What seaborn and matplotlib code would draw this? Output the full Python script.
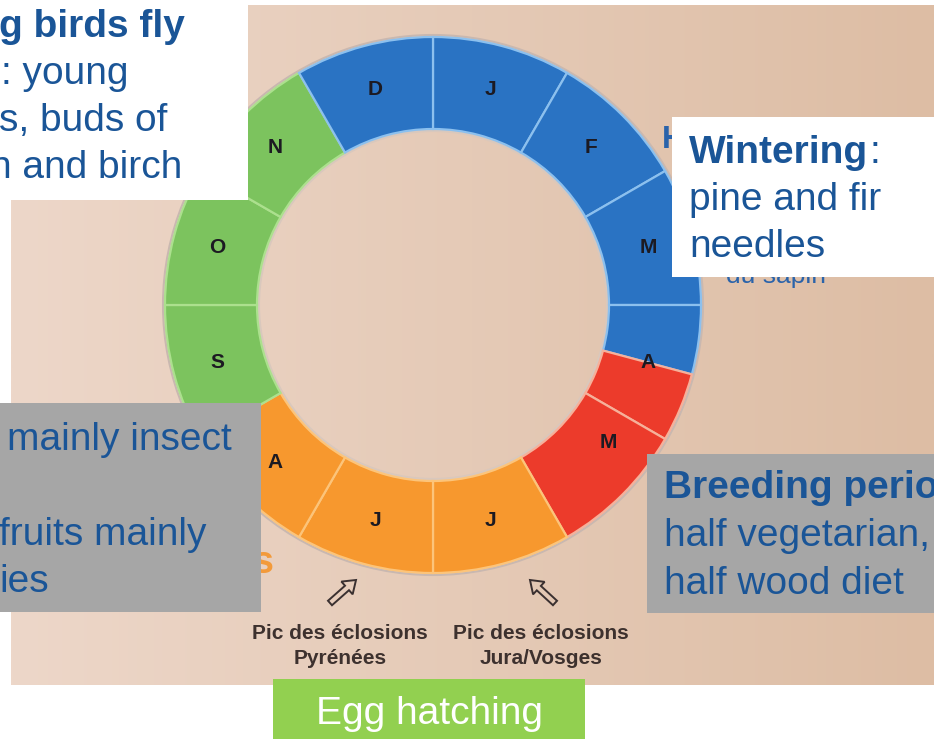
import matplotlib
matplotlib.use('Agg')
import matplotlib.pyplot as plt
from matplotlib.patches import Rectangle, FancyArrow
import numpy as np
import seaborn as sns

# months around the ring, clockwise from the top
months = ['J', 'F', 'M', 'A', 'M', 'J', 'J', 'A', 'S', 'O', 'N', 'D']

# ring segments (length in months) and the diet period each one belongs to
segment_sizes = [1, 1, 1, 0.5, 0.5, 1, 1, 1, 1, 1, 1, 1, 1]
segment_period = ['Wintering', 'Wintering', 'Wintering', 'Wintering', 'Breeding', 'Breeding',
                  'Rearing', 'Rearing', 'Rearing', 'Autumn', 'Autumn', 'Autumn', 'Wintering']

# annotation texts
top_left_lines = ['g birds fly', ': young', 's, buds of', 'h and birch']
wintering_lines = ['Wintering', ':', 'pine and fir', 'needles']
left_lines = ['mainly insect', 'fruits mainly', 'ies']
right_lines = ['Breeding perio', 'half vegetarian,', 'half wood diet']
hatch_labels = ['Pic des éclosions\nPyrénées', 'Pic des éclosions\nJura/Vosges']
green_label = 'Egg hatching'

period_colors = {'Wintering': '#2a73c3', 'Breeding': '#ec3b2b',
                 'Rearing': '#f7982e', 'Autumn': '#7cc35e'}
edge_colors = {'Wintering': '#8cc0ee', 'Breeding': '#f6b09a',
               'Rearing': '#fcc47a', 'Autumn': '#ace08e'}

sns.set_theme(style='white')
plt.rcParams['font.family'] = ['Liberation Sans', 'DejaVu Sans']

W, H = 934, 739
fig = plt.figure(figsize=(W / 100, H / 100), dpi=100)
fig.patch.set_facecolor('white')
ax = fig.add_axes([0, 0, 1, 1])


def Y(y):
    # pixel row from the top -> data y
    return H - y


# photo-like background gradient
left_c = np.array([237, 215, 201]) / 255
right_c = np.array([221, 189, 164]) / 255
grad = np.linspace(0, 1, 256)[None, :, None]
img = left_c + (right_c - left_c) * grad
ax.imshow(img, extent=[11, W, Y(685), Y(5)], aspect='auto', interpolation='bilinear', zorder=0)

# the ring
cx, cy = 433, 305
r_out, r_in = 268, 176
# faint outline around the ring
ax.add_patch(plt.Circle((cx, Y(cy)), r_out + 2, fc='none', ec='#c9b8b0', lw=1.5, zorder=0.5))
ax.add_patch(plt.Circle((cx, Y(cy)), r_in - 2, fc='none', ec='#d9c8bd', lw=1.5, zorder=0.5))
wedges, _ = ax.pie(segment_sizes, colors=[period_colors[p] for p in segment_period],
                   startangle=90, counterclock=False, radius=r_out, center=(cx, Y(cy)),
                   wedgeprops=dict(width=r_out - r_in, linewidth=1.6))
for w, p in zip(wedges, segment_period):
    w.set_edgecolor(edge_colors[p])
    w.set_zorder(1)

# pie resets the limits, so set them back to pixel space
ax.set_xlim(0, W)
ax.set_ylim(0, H)
ax.set_aspect('auto')
ax.axis('off')

# month letters
label_shift = {4: -7}
for i, m in enumerate(months):
    ang = np.deg2rad(30 * i + 15 + label_shift.get(i, 0))
    r = 223
    ax.text(cx + r * np.sin(ang), Y(cy - r * np.cos(ang)), m, ha='center', va='center',
            fontsize=15, fontweight='bold', color='#1c1a22', zorder=2)

# hatching peaks
for x, lab in zip([340, 541], hatch_labels):
    ax.text(x, Y(646), lab, ha='center', va='center', fontsize=15, fontweight='bold',
            color='#3d312e', linespacing=1.35, zorder=2)
for (x0, y0), (x1, y1) in [((330, 603), (356, 580)), ((555, 603), (530, 580))]:
    ax.add_patch(FancyArrow(x0, Y(y0), x1 - x0, Y(y1) - Y(y0), width=6, head_width=17,
                            head_length=12, length_includes_head=True, fc='none',
                            ec='#3a3030', lw=1.4, zorder=2))

# bits of the original text still visible behind the boxes
blue = '#1a5597'
ax.text(662, Y(148), 'H', fontsize=23, fontweight='bold', color='#2a63aa', zorder=2)
ax.text(726, Y(283), 'du sapin', fontsize=19, color='#2a63aa', zorder=2)
ax.text(274, Y(573), 's', ha='right', fontsize=27, fontweight='bold', color='#f39a3a', zorder=2)

# overlay boxes
ax.add_patch(Rectangle((-5, Y(200)), 253, 210, fc='white', ec='none', zorder=3))
ax.add_patch(Rectangle((672, Y(277)), 270, 160, fc='white', ec='none', zorder=3))
ax.add_patch(Rectangle((-5, Y(612)), 266, 209, fc='#a6a6a6', ec='none', zorder=3))
ax.add_patch(Rectangle((647, Y(613)), 295, 159, fc='#a6a6a6', ec='none', zorder=3))
ax.add_patch(Rectangle((273, Y(745)), 312, 66, fc='#92d050', ec='none', zorder=3))

fs = 28
# top-left box
ax.text(-1, Y(37), top_left_lines[0], fontsize=fs, fontweight='bold', color=blue, va='baseline', zorder=4)
ax.text(1, Y(84), top_left_lines[1], fontsize=fs, color=blue, va='baseline', zorder=4)
ax.text(-1, Y(131), top_left_lines[2], fontsize=fs, color=blue, va='baseline', zorder=4)
ax.text(-10, Y(178), top_left_lines[3], fontsize=fs, color=blue, va='baseline', zorder=4)

# wintering box
t = ax.text(689, Y(163), wintering_lines[0], fontsize=fs, fontweight='bold', color=blue,
            va='baseline', zorder=4)
fig.canvas.draw()
x_end = t.get_window_extent(fig.canvas.get_renderer()).x1
ax.text(x_end + 1, Y(163), wintering_lines[1], fontsize=fs, color=blue, va='baseline', zorder=4)
ax.text(689, Y(210), wintering_lines[2], fontsize=fs, color=blue, va='baseline', zorder=4)
ax.text(689, Y(257), wintering_lines[3], fontsize=fs, color=blue, va='baseline', zorder=4)

# left grey box
ax.text(7, Y(450), left_lines[0], fontsize=fs, color=blue, va='baseline', zorder=4)
ax.text(-1, Y(545), left_lines[1], fontsize=fs, color=blue, va='baseline', zorder=4)
ax.text(-1, Y(592), left_lines[2], fontsize=fs, color=blue, va='baseline', zorder=4)

# right grey box
ax.text(664, Y(498), right_lines[0], fontsize=fs, fontweight='bold', color=blue, va='baseline', zorder=4)
ax.text(664, Y(546), right_lines[1], fontsize=fs, color=blue, va='baseline', zorder=4)
ax.text(664, Y(594), right_lines[2], fontsize=fs, color=blue, va='baseline', zorder=4)

# green box
ax.text(429, Y(724), green_label, ha='center', va='baseline', fontsize=fs, color='white', zorder=4)

fig.savefig('out.png', dpi=100, facecolor='white')
